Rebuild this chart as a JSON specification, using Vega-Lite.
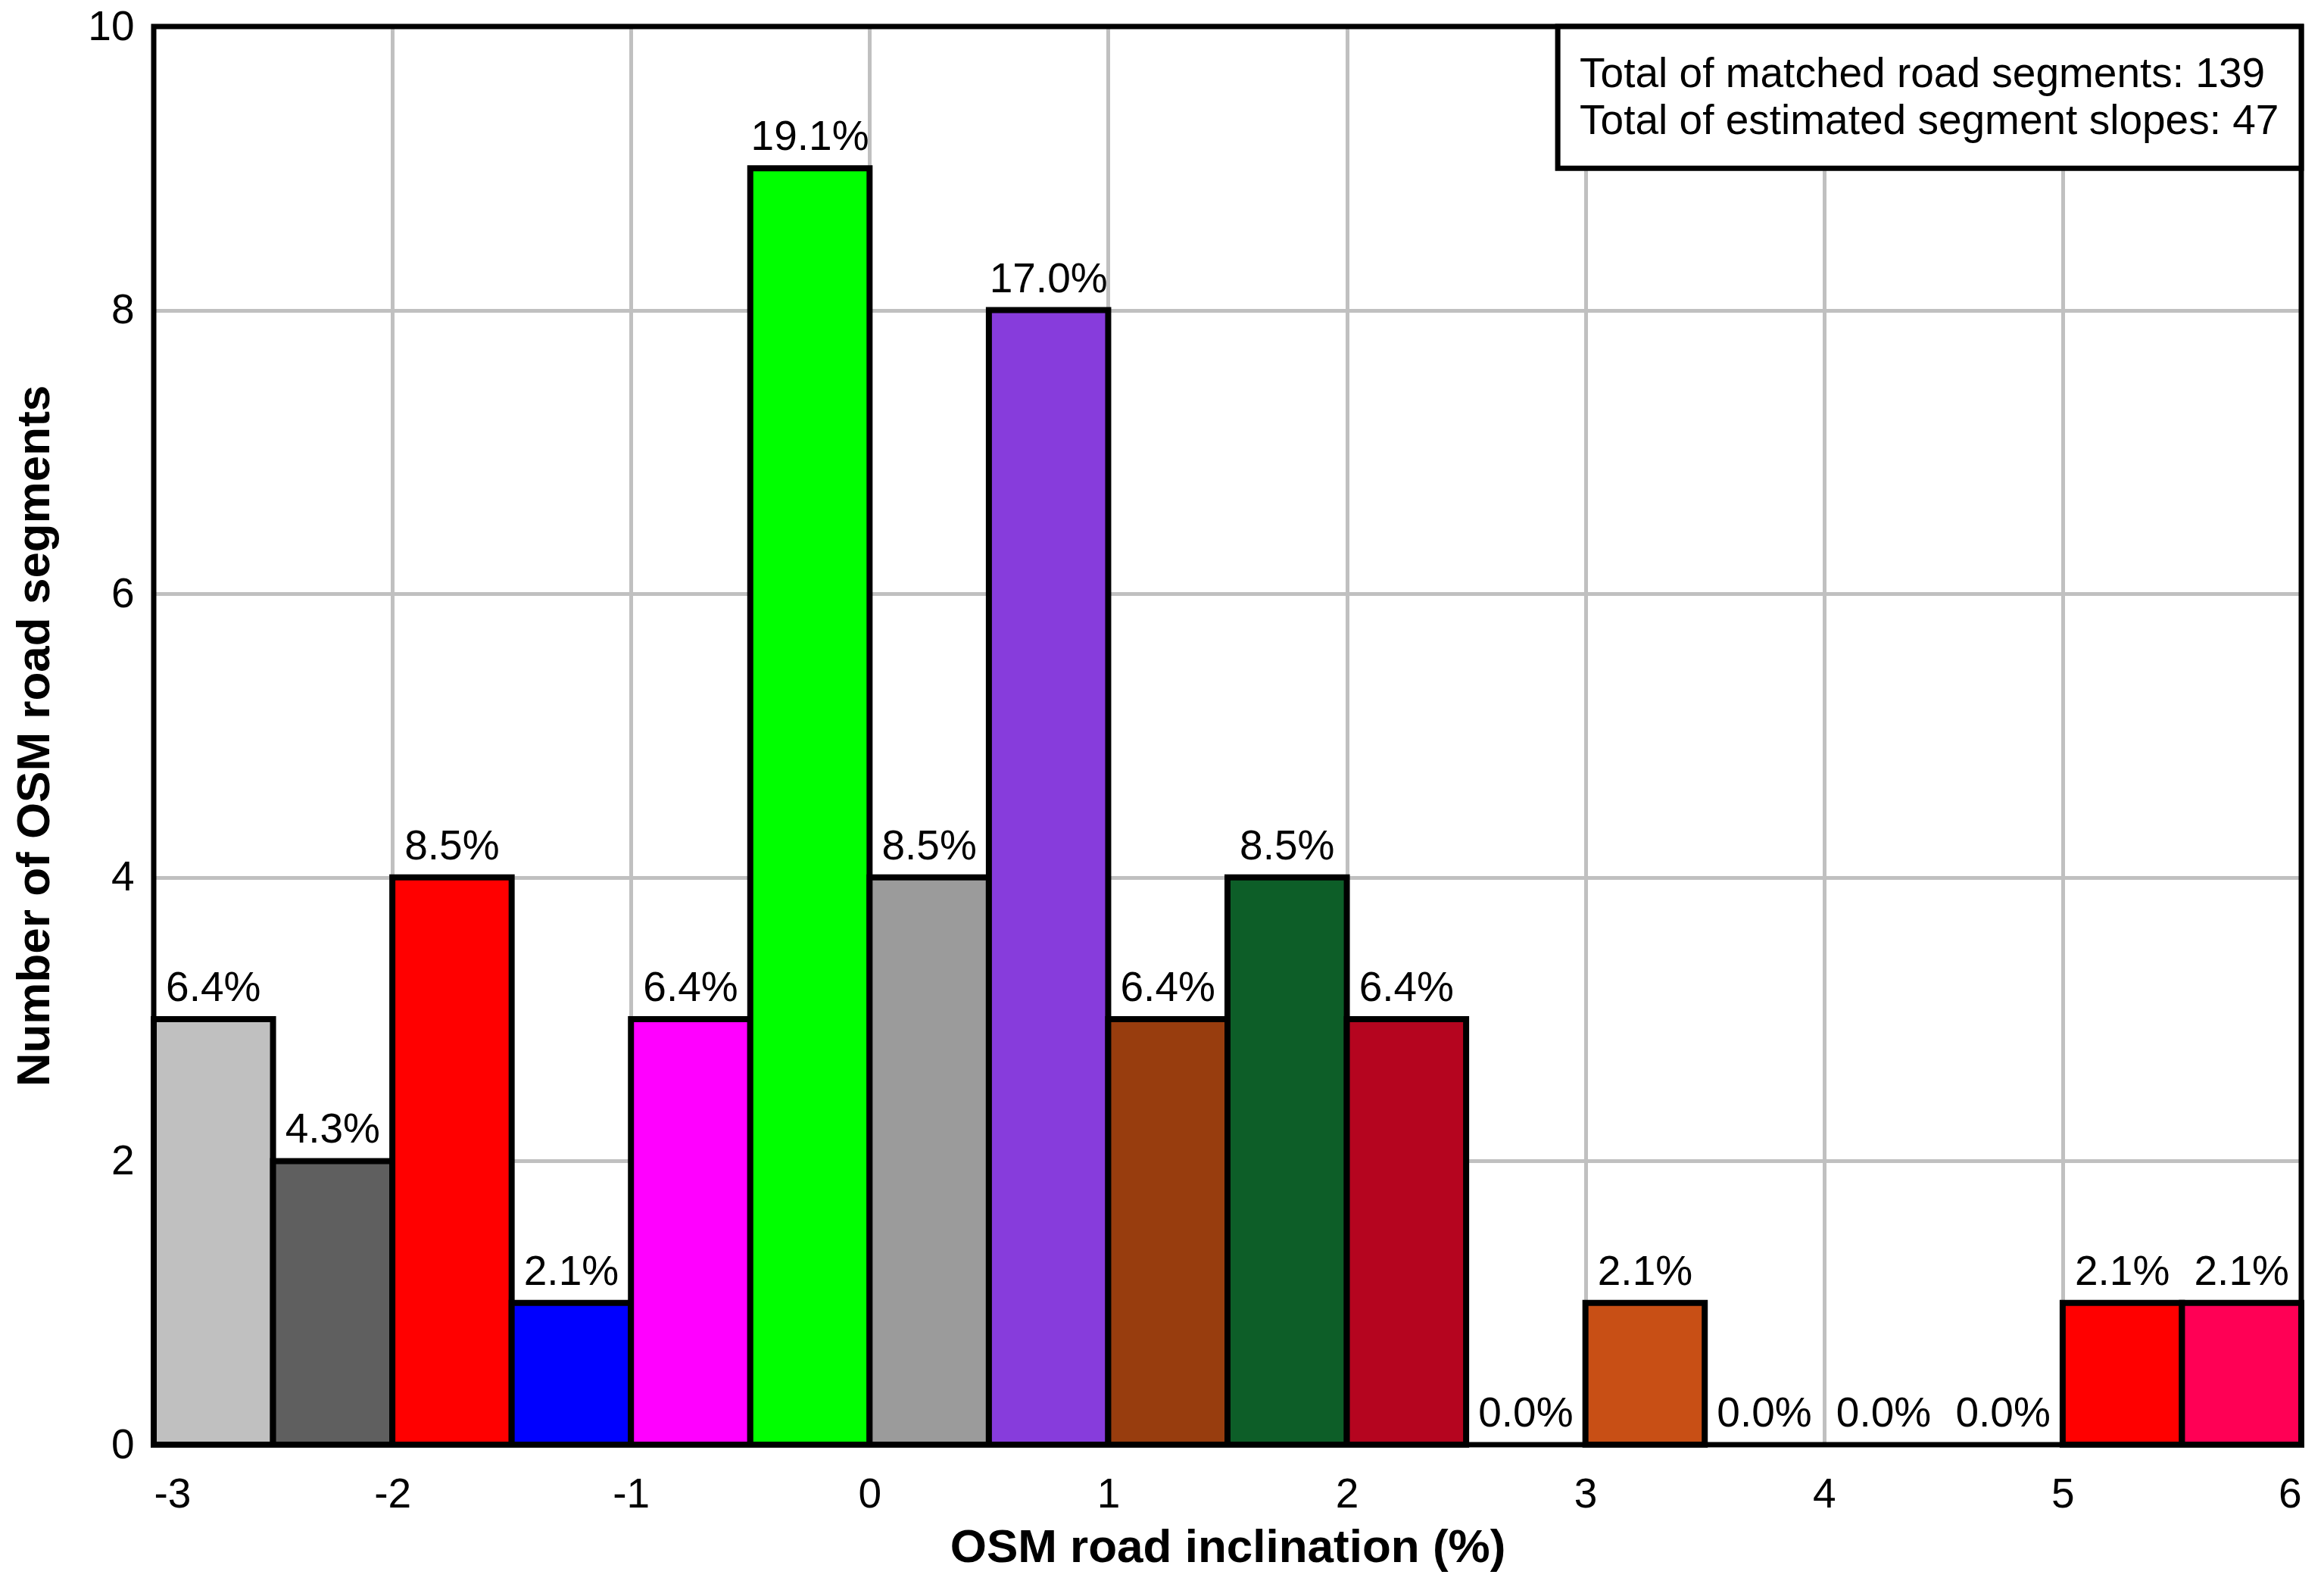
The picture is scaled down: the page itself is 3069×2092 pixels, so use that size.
{
  "$schema": "https://vega.github.io/schema/vega-lite/v6.json",
  "width": 2836,
  "height": 1873,
  "autosize": {"type": "none"},
  "padding": {"left": 203, "top": 35, "right": 30, "bottom": 184},
  "background": "white",
  "config": {
    "view": {"stroke": null},
    "font": "Liberation Sans",
    "axis": {
      "grid": true,
      "gridColor": "#C0C0C0",
      "gridWidth": 5,
      "gridOpacity": 1,
      "domain": false,
      "ticks": false,
      "labelFont": "Liberation Sans",
      "labelFontSize": 55,
      "labelColor": "black",
      "titleFont": "Liberation Sans",
      "titleFontSize": 62,
      "titleFontWeight": "bold",
      "titleColor": "black"
    },
    "axisX": {"labelPadding": 39, "titleY": 154, "titleBaseline": "alphabetic"},
    "axisY": {"labelPadding": 26, "titleX": -139, "titleBaseline": "alphabetic"}
  },
  "datasets": {
    "bins": [
      {"bin": "[-3.0,-2.5)", "start": -3, "end": -2.5, "mid": -2.75, "count": 3, "pct": "6.4%"},
      {"bin": "[-2.5,-2.0)", "start": -2.5, "end": -2, "mid": -2.25, "count": 2, "pct": "4.3%"},
      {"bin": "[-2.0,-1.5)", "start": -2, "end": -1.5, "mid": -1.75, "count": 4, "pct": "8.5%"},
      {"bin": "[-1.5,-1.0)", "start": -1.5, "end": -1, "mid": -1.25, "count": 1, "pct": "2.1%"},
      {"bin": "[-1.0,-0.5)", "start": -1, "end": -0.5, "mid": -0.75, "count": 3, "pct": "6.4%"},
      {"bin": "[-0.5,0.0)", "start": -0.5, "end": 0, "mid": -0.25, "count": 9, "pct": "19.1%"},
      {"bin": "[0.0,0.5)", "start": 0, "end": 0.5, "mid": 0.25, "count": 4, "pct": "8.5%"},
      {"bin": "[0.5,1.0)", "start": 0.5, "end": 1, "mid": 0.75, "count": 8, "pct": "17.0%"},
      {"bin": "[1.0,1.5)", "start": 1, "end": 1.5, "mid": 1.25, "count": 3, "pct": "6.4%"},
      {"bin": "[1.5,2.0)", "start": 1.5, "end": 2, "mid": 1.75, "count": 4, "pct": "8.5%"},
      {"bin": "[2.0,2.5)", "start": 2, "end": 2.5, "mid": 2.25, "count": 3, "pct": "6.4%"},
      {"bin": "[2.5,3.0)", "start": 2.5, "end": 3, "mid": 2.75, "count": 0, "pct": "0.0%"},
      {"bin": "[3.0,3.5)", "start": 3, "end": 3.5, "mid": 3.25, "count": 1, "pct": "2.1%"},
      {"bin": "[3.5,4.0)", "start": 3.5, "end": 4, "mid": 3.75, "count": 0, "pct": "0.0%"},
      {"bin": "[4.0,4.5)", "start": 4, "end": 4.5, "mid": 4.25, "count": 0, "pct": "0.0%"},
      {"bin": "[4.5,5.0)", "start": 4.5, "end": 5, "mid": 4.75, "count": 0, "pct": "0.0%"},
      {"bin": "[5.0,5.5)", "start": 5, "end": 5.5, "mid": 5.25, "count": 1, "pct": "2.1%"},
      {"bin": "[5.5,6.0)", "start": 5.5, "end": 6, "mid": 5.75, "count": 1, "pct": "2.1%"}
    ]
  },
  "layer": [
    {
      "data": {"name": "bins"},
      "transform": [{"filter": "datum.count > 0"}],
      "mark": {"type": "rect", "stroke": "black", "strokeWidth": 8, "strokeJoin": "miter"},
      "encoding": {
        "x": {
          "field": "start",
          "type": "quantitative",
          "title": "OSM road inclination (%)",
          "scale": {"domain": [-3, 6], "nice": false, "zero": false},
          "axis": {"values": [-3, -2, -1, 0, 1, 2, 3, 4, 5, 6], "labelExpr": "'' + datum.value"}
        },
        "x2": {"field": "end"},
        "y": {
          "field": "count",
          "type": "quantitative",
          "title": "Number of OSM road segments",
          "scale": {"domain": [0, 10], "nice": false},
          "axis": {"values": [0, 2, 4, 6, 8, 10], "labelExpr": "'' + datum.value"}
        },
        "y2": {"datum": 0},
        "color": {
          "field": "bin",
          "type": "nominal",
          "legend": null,
          "scale": {
            "domain": ["[-3.0,-2.5)", "[-2.5,-2.0)", "[-2.0,-1.5)", "[-1.5,-1.0)", "[-1.0,-0.5)", "[-0.5,0.0)", "[0.0,0.5)", "[0.5,1.0)", "[1.0,1.5)", "[1.5,2.0)", "[2.0,2.5)", "[2.5,3.0)", "[3.0,3.5)", "[3.5,4.0)", "[4.0,4.5)", "[4.5,5.0)", "[5.0,5.5)", "[5.5,6.0)"],
            "range": ["#C0C0C0", "#5F5F5F", "#FF0000", "#0000FF", "#FF00FF", "#00FF00", "#9B9B9B", "#873CDC", "#983D0E", "#0D5E28", "#B5051F", "#FFFFFF", "#C84F15", "#FFFFFF", "#FFFFFF", "#FFFFFF", "#FF0000", "#FF0055"]
          }
        }
      }
    },
    {
      "data": {"name": "bins"},
      "mark": {"type": "text", "fontSize": 55, "font": "Liberation Sans", "color": "black", "align": "center", "baseline": "alphabetic", "dy": -24},
      "encoding": {
        "x": {"field": "mid", "type": "quantitative", "title": "OSM road inclination (%)"},
        "y": {"field": "count", "type": "quantitative", "title": "Number of OSM road segments"},
        "text": {"field": "pct", "type": "nominal"}
      }
    },
    {
      "data": {"values": [{}]},
      "mark": {"type": "rect", "fill": "white", "fillOpacity": 0, "stroke": "black", "strokeWidth": 7},
      "encoding": {
        "x": {"datum": -3, "type": "quantitative"},
        "x2": {"datum": 6},
        "y": {"datum": 0, "type": "quantitative"},
        "y2": {"datum": 10}
      }
    },
    {
      "data": {"values": [{}]},
      "mark": {"type": "rect", "fill": "white", "stroke": "black", "strokeWidth": 7},
      "encoding": {
        "x": {"datum": 2.884, "type": "quantitative"},
        "x2": {"datum": 6},
        "y": {"datum": 9.0, "type": "quantitative"},
        "y2": {"datum": 10}
      }
    },
    {
      "data": {"values": [{"note": "Total of matched road segments: 139"}]},
      "mark": {"type": "text", "fontSize": 55, "font": "Liberation Sans", "color": "black", "align": "left", "baseline": "middle"},
      "encoding": {
        "x": {"datum": 2.976, "type": "quantitative"},
        "y": {"datum": 9.664, "type": "quantitative"},
        "text": {"field": "note", "type": "nominal"}
      }
    },
    {
      "data": {"values": [{"note": "Total of estimated segment slopes: 47"}]},
      "mark": {"type": "text", "fontSize": 55, "font": "Liberation Sans", "color": "black", "align": "left", "baseline": "middle"},
      "encoding": {
        "x": {"datum": 2.976, "type": "quantitative"},
        "y": {"datum": 9.333, "type": "quantitative"},
        "text": {"field": "note", "type": "nominal"}
      }
    }
  ]
}
